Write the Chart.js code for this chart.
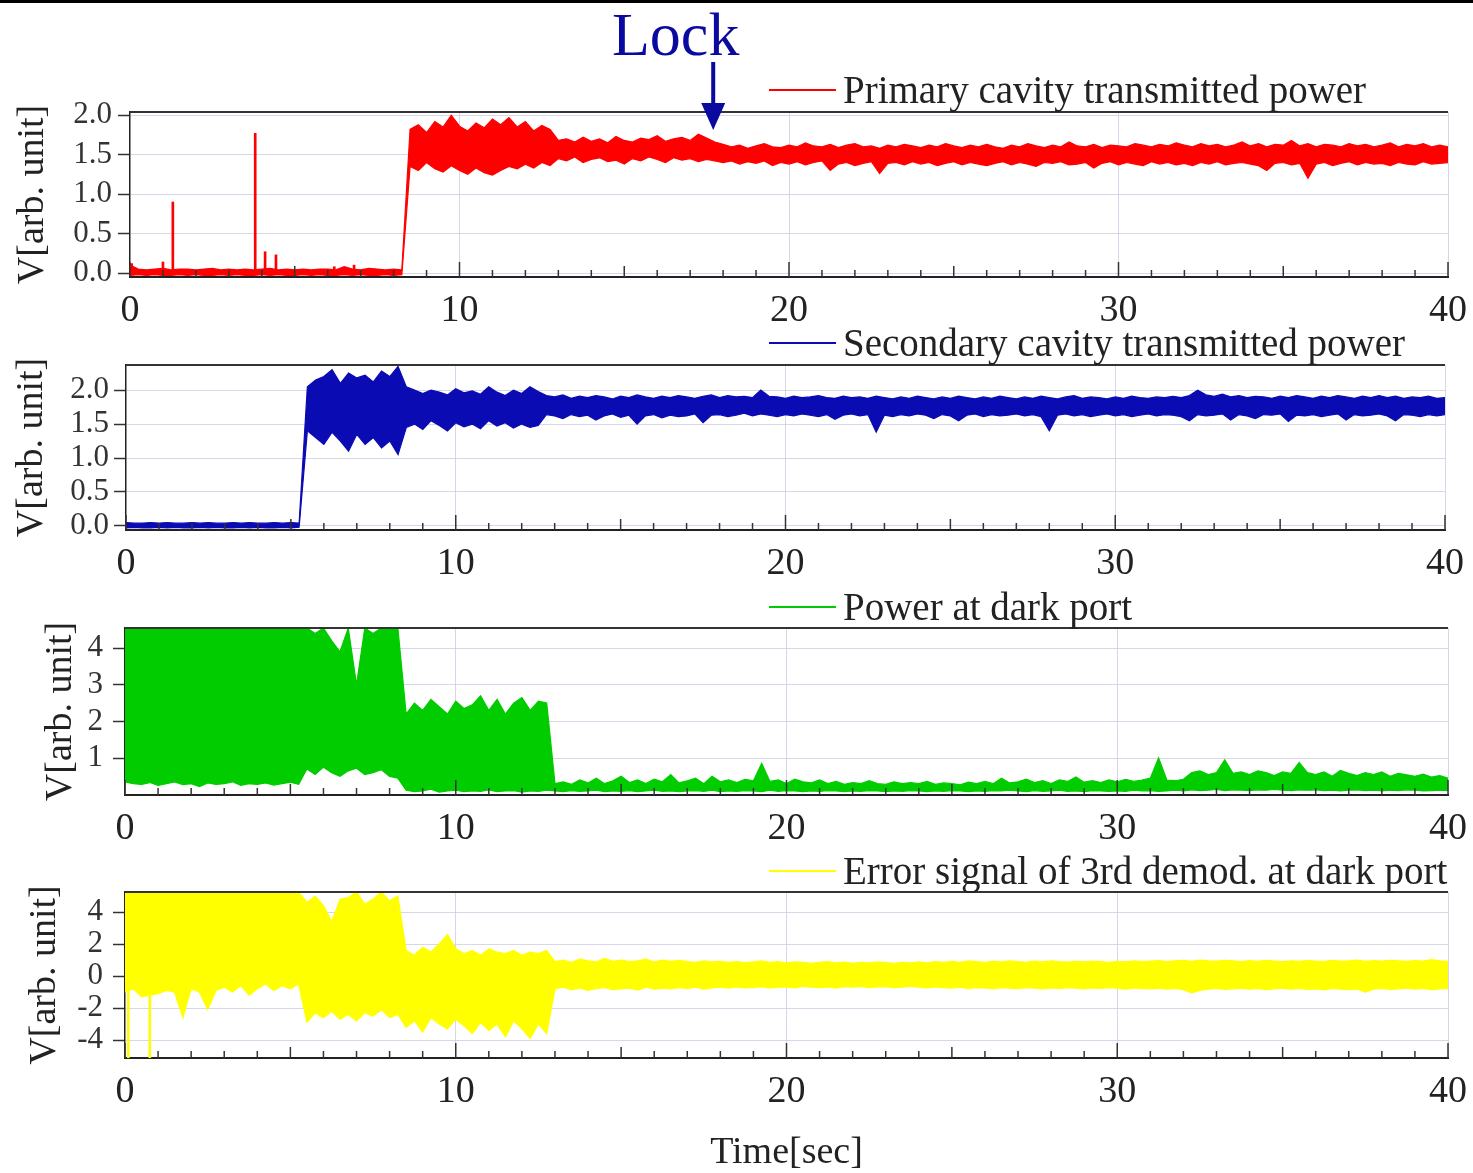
<!DOCTYPE html>
<html>
<head>
<meta charset="utf-8">
<script src="https://cdn.jsdelivr.net/npm/chart.js@4.4.0/dist/chart.umd.min.js"></script>
<style>
  body { margin:0; background:#fff; width:1473px; height:1173px; position:relative; overflow:hidden; font-family:"Liberation Serif", serif; }
  canvas { position:absolute; left:0; }
  #topbar { position:absolute; left:0; top:0; width:1473px; height:3px; background:#000; }
  #lock { position:absolute; left:612px; top:3px; font-size:62px; line-height:62px; color:#0a0aa0; }
  .leg { position:absolute; left:769px; display:flex; align-items:center; font-size:39px; line-height:39px; color:#222; white-space:nowrap; }
  .leg .ln { display:inline-block; width:67px; height:2px; margin-right:7px; }
</style>
</head>
<body>
<div id="topbar"></div>
<div id="lock">Lock</div>
<canvas id="c1" width="1473" height="335" style="top:0px"></canvas>
<canvas id="c2" width="1473" height="253" style="top:335px"></canvas>
<canvas id="c3" width="1473" height="265" style="top:588px"></canvas>
<canvas id="c4" width="1473" height="320" style="top:853px"></canvas>
<script>
// samples every 0.25 s from 0 to 40 s; each series given as upper / lower envelope of the noise
var dt = 0.25;
var timeLabels = [0, 10, 20, 30, 40];
var lockTime = 17.7;

// Primary cavity transmitted power (red)
var redHi = [
  0.1,0.05,0.04,0.05, 0.06,0.04,0.05,0.05, 0.04,0.05,0.06,0.04, 0.05,0.04,0.05,0.04,
  0.05,0.06,0.04,0.05, 0.04,0.05,0.04,0.05, 0.05,0.04,0.08,0.05, 0.04,0.06,0.05,0.04,
  0.05,0.04,
  1.82,1.88,1.78,1.92, 1.85,2.0,1.86,1.8, 1.9,1.84,1.95,1.88, 1.97,1.85,1.92,1.8, 1.87,1.82,
  1.68,1.7,1.66,1.72, 1.67,1.7,1.65,1.73, 1.68,1.66,1.71,1.69, 1.74,1.67,1.7,1.72, 1.68,1.76,1.71,1.66,
  1.63,1.6,1.62,1.58, 1.61,1.64,1.6,1.59, 1.62,1.6,1.65,1.61, 1.6,1.63,1.59,1.62,
  1.64,1.6,1.61,1.58, 1.62,1.6,1.63,1.61, 1.59,1.62,1.6,1.64, 1.61,1.59,1.62,1.6,
  1.63,1.6,1.58,1.62, 1.6,1.64,1.61,1.59, 1.62,1.6,1.66,1.61, 1.6,1.63,1.59,1.62,
  1.61,1.6,1.64,1.62, 1.6,1.63,1.61,1.65, 1.62,1.6,1.64,1.61, 1.63,1.6,1.62,1.66,
  1.61,1.64,1.6,1.63, 1.62,1.68,1.61,1.64, 1.6,1.63,1.62,1.6, 1.64,1.61,1.63,1.6,
  1.62,1.65,1.6,1.63, 1.61,1.64,1.6,1.62, 1.6
];
var redLo = [
  -0.03,-0.02,-0.03,-0.02, -0.03,-0.03,-0.02,-0.03, -0.02,-0.03,-0.03,-0.02, -0.03,-0.02,-0.03,-0.03,
  -0.02,-0.03,-0.02,-0.03, -0.03,-0.02,-0.03,-0.02, -0.03,-0.03,-0.02,-0.03, -0.02,-0.03,-0.03,-0.02,
  -0.03,-0.02,
  1.35,1.3,1.4,1.32, 1.28,1.36,1.3,1.25, 1.33,1.27,1.24,1.3, 1.35,1.32,1.38,1.33, 1.4,1.36,
  1.45,1.42,1.47,1.4, 1.44,1.46,1.41,1.43, 1.38,1.45,1.42,1.47, 1.44,1.4,1.46,1.43, 1.45,1.41,1.44,1.42,
  1.4,1.42,1.38,1.41, 1.39,1.42,1.36,1.4, 1.38,1.41,1.37,1.4, 1.42,1.3,1.38,1.4,
  1.36,1.39,1.41,1.26, 1.39,1.4,1.37,1.41, 1.38,1.4,1.36,1.39, 1.41,1.37,1.4,1.38,
  1.36,1.39,1.41,1.37, 1.4,1.38,1.35,1.4, 1.39,1.41,1.37,1.38, 1.4,1.33,1.39,1.41,
  1.37,1.4,1.38,1.36, 1.41,1.38,1.4,1.37, 1.39,1.36,1.4,1.38, 1.41,1.37,1.39,1.4,
  1.38,1.36,1.3,1.39, 1.4,1.37,1.39,1.2, 1.38,1.4,1.36,1.39, 1.41,1.37,1.4,1.38,
  1.39,1.36,1.4,1.38, 1.37,1.41,1.38,1.39, 1.4
];
var redSpikeT = [0.05, 1.0, 1.3, 3.8, 4.1, 4.43, 6.2, 6.8];
var redSpikeV = [0.12, 0.14, 0.9, 1.77, 0.27, 0.23, 0.08, 0.1];

// Secondary cavity transmitted power (blue)
var blueHi = [
  0.05,0.04,0.04,0.05, 0.04,0.05,0.04,0.04, 0.05,0.04,0.05,0.04, 0.04,0.05,0.04,0.05,
  0.04,0.04,0.05,0.04, 0.05,0.04,
  2.05,2.15,2.2,2.3, 2.1,2.25,2.18,2.22, 2.12,2.28,2.2,2.35,
  2.05,2.0,1.95,2.0, 1.97,1.93,2.02,1.96, 1.99,1.94,2.05,1.97, 1.92,2.0,1.95,2.05, 1.98,
  1.92,
  1.9,1.93,1.88,1.91, 1.89,1.92,1.9,1.87, 1.91,1.89,1.93,1.9, 1.88,1.91,1.89,1.92,
  1.9,1.88,1.91,1.93, 1.89,1.92,1.9,1.91, 1.89,2.0,1.91,1.9, 1.88,1.91,1.89,1.9,
  1.92,1.89,1.88,1.91, 1.89,1.9,1.88,1.91, 1.89,1.87,1.9,1.88, 1.91,1.89,1.87,1.9,
  1.88,1.91,1.89,1.87, 1.9,1.88,1.91,1.89, 1.87,1.9,1.88,1.91, 1.89,1.87,1.9,1.92,
  1.88,1.9,1.89,1.87, 1.9,1.88,1.91,1.89, 1.88,1.9,1.89,1.91, 1.89,1.92,2.0,1.93,
  1.91,1.94,1.9,1.92, 1.89,1.91,1.9,1.88, 1.91,1.89,1.92,1.9, 1.88,1.91,1.89,1.92,
  1.9,1.88,1.91,1.89, 1.92,1.89,1.91,1.88, 1.9,1.89,1.91,1.88, 1.89
];
var blueLo = [
  -0.03,-0.02,-0.03,-0.03, -0.02,-0.03,-0.02,-0.03, -0.03,-0.02,-0.03,-0.02, -0.03,-0.03,-0.02,-0.03,
  -0.02,-0.03,-0.03,-0.02, -0.03,-0.02,
  1.4,1.3,1.2,1.38, 1.25,1.1,1.35,1.2, 1.3,1.15,1.25,1.05,
  1.45,1.5,1.42,1.55, 1.48,1.4,1.52,1.46, 1.5,1.43,1.55,1.47, 1.52,1.44,1.5,1.45, 1.48,
  1.64,
  1.62,1.58,1.64,1.61, 1.63,1.56,1.62,1.65, 1.6,1.63,1.5,1.62, 1.64,1.59,1.63,1.61,
  1.62,1.65,1.52,1.63, 1.64,1.61,1.63,1.66, 1.62,1.65,1.63,1.61, 1.64,1.62,1.65,1.63,
  1.61,1.64,1.57,1.63, 1.65,1.62,1.64,1.38, 1.63,1.61,1.64,1.62, 1.65,1.63,1.58,1.64,
  1.62,1.55,1.63,1.65, 1.61,1.64,1.62,1.63, 1.65,1.62,1.64,1.61, 1.4,1.63,1.65,1.62,
  1.64,1.61,1.63,1.65, 1.62,1.64,1.61,1.63, 1.65,1.62,1.64,1.63, 1.61,1.55,1.64,1.62,
  1.63,1.65,1.56,1.64, 1.62,1.58,1.64,1.63, 1.65,1.54,1.63,1.62, 1.64,1.61,1.63,1.65,
  1.56,1.64,1.62,1.63, 1.65,1.62,1.55,1.64, 1.63,1.61,1.64,1.62, 1.64
];

// Power at dark port (green)
var greenHi = [
  4.55,4.55,4.55,4.55, 4.55,4.55,4.55,4.55, 4.55,4.55,4.55,4.55, 4.55,4.55,4.55,4.55,
  4.55,4.55,4.55,4.55, 4.55,4.55,
  4.55,4.4,4.55,4.2, 3.9,4.55,3.0,4.55, 4.4,4.55,4.55,4.55,
  2.2,2.5,2.3,2.6, 2.4,2.2,2.55,2.35, 2.45,2.7,2.3,2.6, 2.2,2.5,2.65,2.3, 2.55,2.5,
  0.3,0.35,0.28,0.4, 0.32,0.45,0.3,0.38, 0.5,0.33,0.4,0.3, 0.42,0.35,0.55,0.32,
  0.38,0.45,0.3,0.5, 0.35,0.4,0.33,0.42, 0.38,0.85,0.36,0.4, 0.3,0.42,0.35,0.32,
  0.4,0.3,0.36,0.28, 0.33,0.3,0.38,0.3, 0.28,0.35,0.3,0.33, 0.3,0.36,0.28,0.32,
  0.3,0.27,0.34,0.3, 0.36,0.3,0.45,0.32, 0.35,0.42,0.33,0.38, 0.3,0.4,0.36,0.48,
  0.34,0.38,0.33,0.4, 0.35,0.42,0.36,0.4, 0.45,1.0,0.4,0.38, 0.42,0.6,0.65,0.55,
  0.6,0.95,0.58,0.62, 0.55,0.65,0.6,0.52, 0.62,0.58,0.88,0.6, 0.55,0.62,0.5,0.66,
  0.58,0.52,0.6,0.55, 0.62,0.5,0.58,0.54, 0.5,0.56,0.48,0.52, 0.45
];
var greenLo = [
  0.35,0.3,0.28,0.33, 0.25,0.3,0.35,0.27, 0.3,0.22,0.32,0.28, 0.3,0.35,0.25,0.3,
  0.28,0.32,0.26,0.3, 0.34,0.28,
  0.7,0.55,0.75,0.6, 0.5,0.65,0.72,0.55, 0.6,0.68,0.5,0.45,
  0.12,0.08,0.1,0.15, 0.07,0.1,0.12,0.08, 0.1,0.09,0.13,0.08, 0.1,0.11,0.07,0.1, 0.09,0.12,
  0.1,0.08,0.11,0.09, 0.1,0.12,0.08,0.1, 0.09,0.11,0.08,0.1, 0.12,0.09,0.1,0.08,
  0.1,0.11,0.09,0.12, 0.08,0.1,0.09,0.11, 0.1,0.08,0.12,0.09, 0.11,0.1,0.08,0.1,
  0.09,0.11,0.1,0.08, 0.1,0.09,0.11,0.1, 0.08,0.1,0.09,0.11, 0.1,0.08,0.1,0.09,
  0.11,0.1,0.08,0.1, 0.09,0.11,0.1,0.12, 0.1,0.08,0.11,0.09, 0.1,0.12,0.09,0.1,
  0.08,0.11,0.1,0.09, 0.1,0.09,0.12,0.1, 0.11,0.09,0.1,0.12, 0.1,0.13,0.11,0.12,
  0.14,0.11,0.13,0.12, 0.11,0.13,0.12,0.14, 0.12,0.11,0.13,0.12, 0.13,0.11,0.12,0.1,
  0.12,0.13,0.11,0.12, 0.1,0.12,0.11,0.13, 0.12,0.1,0.11,0.12, 0.11
];

// Error signal of 3rd demod. at dark port (yellow)
var yellowHi = [
  5.25,5.25,5.25,5.25, 5.25,5.25,5.25,5.25, 5.25,5.25,5.25,5.25, 5.25,5.25,5.25,5.25,
  5.25,5.25,5.25,5.25, 5.25,5.25,
  4.6,5.0,4.4,3.4, 4.8,4.9,5.25,4.5, 4.8,5.25,4.7,5.0,
  1.6,1.3,1.8,1.5, 2.0,2.6,1.7,1.4, 1.6,1.3,1.7,1.5, 1.4,1.6,1.3,1.5, 1.4,1.6,
  0.9,1.0,0.85,1.05, 0.95,0.88,1.1,0.92, 1.0,0.9,0.95,1.05, 0.88,1.0,0.92,0.98,
  0.9,0.85,0.95,0.88, 0.92,0.86,0.9,0.84, 0.88,0.95,0.85,0.9, 0.82,0.88,0.85,0.8,
  0.86,0.9,0.83,0.87, 0.8,0.85,0.82,0.88, 0.84,0.8,0.86,0.82, 0.88,0.83,0.9,0.85,
  0.92,0.86,0.95,0.9, 0.85,0.92,0.88,0.95, 0.9,0.86,0.93,0.88, 0.95,0.9,0.87,0.92,
  0.88,0.93,0.9,0.86, 0.92,0.88,0.95,0.9, 0.93,0.97,0.9,0.95, 0.98,0.92,1.0,0.95,
  0.93,0.98,0.95,0.9, 0.96,0.92,0.98,0.94, 0.9,0.95,0.92,0.97, 0.94,0.9,0.98,0.93,
  0.95,1.0,0.92,0.96, 0.93,0.98,0.95,0.92, 0.97,0.93,1.02,0.95, 0.92
];
var yellowLo = [
  -1.0,-0.8,-1.3,-1.2, -1.1,-0.9,-1.0,-2.6, -0.8,-1.0,-2.1,-0.9, -0.7,-1.0,-0.6,-1.2,
  -0.8,-0.5,-0.9,-0.6, -0.8,-0.5,
  -2.9,-2.3,-2.6,-2.2, -2.7,-2.4,-2.8,-2.3, -2.5,-2.1,-2.6,-2.4,
  -3.2,-2.8,-3.5,-2.6, -3.0,-3.3,-2.7,-3.1, -3.6,-2.9,-3.4,-3.0, -3.8,-2.8,-3.3,-3.9, -3.0,-3.6,
  -0.8,-0.7,-0.85,-0.75, -0.9,-0.78,-0.72,-0.85, -0.8,-0.75,-0.88,-0.7, -0.82,-0.76,-0.8,-0.72,
  -0.78,-0.7,-0.82,-0.74, -0.7,-0.76,-0.68,-0.74, -0.72,-0.66,-0.75,-0.7, -0.68,-0.74,-0.65,-0.7,
  -0.72,-0.68,-0.75,-0.66, -0.7,-0.65,-0.72,-0.68, -0.66,-0.72,-0.7,-0.64, -0.7,-0.74,-0.68,-0.72,
  -0.75,-0.7,-0.78,-0.72, -0.74,-0.8,-0.72,-0.76, -0.78,-0.72,-0.75,-0.8, -0.74,-0.78,-0.72,-0.76,
  -0.8,-0.74,-0.77,-0.72, -0.76,-0.82,-0.74,-0.78, -0.8,-0.76,-0.82,-0.78, -0.85,-1.05,-0.9,-0.82,
  -0.78,-0.84,-0.8,-0.76, -0.82,-0.78,-0.85,-0.8, -0.76,-0.82,-0.78,-0.84, -0.8,-0.86,-0.78,-0.82,
  -0.85,-0.8,-1.0,-0.82, -0.78,-0.84,-0.8,-0.76, -0.82,-0.78,-0.85,-0.8, -0.78
];
var yellowSpikeT = [0.1, 0.75];
var yellowSpikeV = [-5.2, -5.2];

// y tick labels of the four panels
var ticksPrimary = [0, 0.5, 1, 1.5, 2];
var ticksSecondary = [0, 0.5, 1, 1.5, 2];
var ticksDark = [1, 2, 3, 4];
var ticksError = [-4, -2, 0, 2, 4];

Chart.defaults.font.family = '"Liberation Serif", "Times New Roman", serif';

var gridCol = 'rgba(200,202,225,0.75)';
var W = 1473;

var panels = [
  {id:'c1', top:0, height:335, left:130, right:1448, plotTop:112, plotBottom:277, titleLeft:6, tickPad:6,
   yMin:-0.05, yMax:2.04, yTicks:ticksPrimary, dec:1, color:'#ff0000', hi:redHi, lo:redLo,
   spikeT:redSpikeT, spikeV:redSpikeV, label:'Primary cavity transmitted power', legTop:70, arrow:true},
  {id:'c2', top:335, height:253, left:126, right:1445, plotTop:365, plotBottom:530, titleLeft:5, tickPad:5,
   yMin:-0.06, yMax:2.37, yTicks:ticksSecondary, dec:1, color:'#0b0bb4', hi:blueHi, lo:blueLo,
   label:'Secondary cavity transmitted power', legTop:323},
  {id:'c3', top:588, height:265, left:125, right:1448, plotTop:628, plotBottom:795, titleLeft:34, tickPad:10,
   yMin:-0.01, yMax:4.55, yTicks:ticksDark, dec:0, color:'#00cc00', hi:greenHi, lo:greenLo,
   label:'Power at dark port', legTop:587},
  {id:'c4', top:853, height:320, left:125, right:1448, plotTop:892, plotBottom:1058, titleLeft:18, tickPad:10,
   yMin:-5.12, yMax:5.25, yTicks:ticksError, dec:0, color:'#ffff00', hi:yellowHi, lo:yellowLo,
   spikeT:yellowSpikeT, spikeV:yellowSpikeV, label:'Error signal of 3rd demod. at dark port', legTop:851,
   xTitle:'Time[sec]'}
];

function pts(arr) {
  return arr.map(function(v, i) { return {x: i * dt, y: v}; });
}

// top frame line, inward minor ticks on the time axis, and the lock arrow
var frame = {
  id: 'frame',
  afterDraw: function(chart) {
    var ctx = chart.ctx, a = chart.chartArea, x = chart.scales.x;
    ctx.save();
    ctx.strokeStyle = '#333';
    ctx.lineWidth = 2;
    ctx.beginPath(); ctx.moveTo(a.left, a.top); ctx.lineTo(a.right, a.top); ctx.stroke();
    ctx.lineWidth = 1.5;
    x.ticks.forEach(function(t) {
      var px = x.getPixelForValue(t.value);
      var len = t.value % 10 === 0 ? 15 : (t.value % 5 === 0 ? 11 : 7);
      ctx.beginPath(); ctx.moveTo(px, a.bottom); ctx.lineTo(px, a.bottom - len); ctx.stroke();
    });
    if (chart.options.plugins.frame && chart.options.plugins.frame.arrow) {
      var ax = x.getPixelForValue(lockTime);
      ctx.fillStyle = '#0a0aa0';
      ctx.fillRect(ax - 2, 62, 4, 44);
      ctx.beginPath();
      ctx.moveTo(ax - 12, 103); ctx.lineTo(ax + 12, 103); ctx.lineTo(ax, 130);
      ctx.closePath(); ctx.fill();
    }
    ctx.restore();
  }
};

var minorTicks = [];
for (var k = 0; k <= 40; k++) minorTicks.push(k);

panels.forEach(function(p) {
  var xAxisH = p.height - (p.plotBottom - p.top);
  var datasets = [
    {type:'line', data: pts(p.hi), borderColor: p.color, backgroundColor: p.color, borderWidth: 1.2,
     pointRadius: 0, fill: '+1', tension: 0},
    {type:'line', data: pts(p.lo), borderColor: p.color, backgroundColor: p.color, borderWidth: 1.2,
     pointRadius: 0, fill: false, tension: 0}
  ];
  if (p.spikeT) {
    datasets.push({type:'bar', data: p.spikeT.map(function(t, i) { return {x: t, y: p.spikeV[i]}; }),
      backgroundColor: p.color, barThickness: 2});
  }

  new Chart(document.getElementById(p.id), {
    type: 'line',
    data: {datasets: datasets},
    plugins: [frame],
    options: {
      responsive: false,
      animation: false,
      events: [],
      layout: {padding: {left: p.titleLeft, right: W - p.right, top: p.plotTop - p.top, bottom: 0}},
      plugins: {legend: {display: false}, tooltip: {enabled: false}, frame: {arrow: !!p.arrow}},
      scales: {
        x: {
          type: 'linear', min: 0, max: 40, offset: false,
          afterFit: function(s) { s.height = xAxisH; s.paddingLeft = 0; s.paddingRight = 0; },
          afterBuildTicks: function(s) { s.ticks = minorTicks.map(function(v) { return {value: v}; }); },
          ticks: {autoSkip: false, maxRotation: 0, padding: 11, color: '#222', font: {size: 38},
                  callback: function(v) { return timeLabels.indexOf(v) >= 0 ? String(v) : ''; }},
          grid: {offset: false, drawTicks: false,
                 color: function(c) { return (c.tick && c.tick.value % 10 === 0 && c.tick.value > 0) ? gridCol : 'rgba(0,0,0,0)'; }},
          border: {color: '#222', width: 2},
          title: p.xTitle ? {display: true, text: p.xTitle, color: '#222', font: {size: 38}, padding: {top: 0, bottom: -3}}
                          : {display: false}
        },
        y: {
          min: p.yMin, max: p.yMax,
          afterFit: function(s) { s.width = p.left - p.titleLeft; },
          afterBuildTicks: function(s) { s.ticks = p.yTicks.map(function(v) { return {value: v}; }); },
          ticks: {padding: p.tickPad, color: '#333', font: {size: 31},
                  callback: function(v) { return v.toFixed(p.dec); }},
          grid: {color: gridCol, tickColor: '#333', tickLength: 12, tickWidth: 1.5},
          border: {color: '#222', width: 1.5},
          title: {display: true, text: 'V[arb. unit]', color: '#222', font: {size: 38}, padding: {top: 4, bottom: 4}}
        }
      }
    }
  });

  // legend entry (line sample + name) above the right part of the panel
  var leg = document.createElement('div');
  leg.className = 'leg';
  leg.style.top = p.legTop + 'px';
  var ln = document.createElement('span');
  ln.className = 'ln';
  ln.style.background = p.color;
  var tx = document.createElement('span');
  tx.textContent = p.label;
  leg.appendChild(ln);
  leg.appendChild(tx);
  document.body.appendChild(leg);
});
</script>
</body>
</html>
